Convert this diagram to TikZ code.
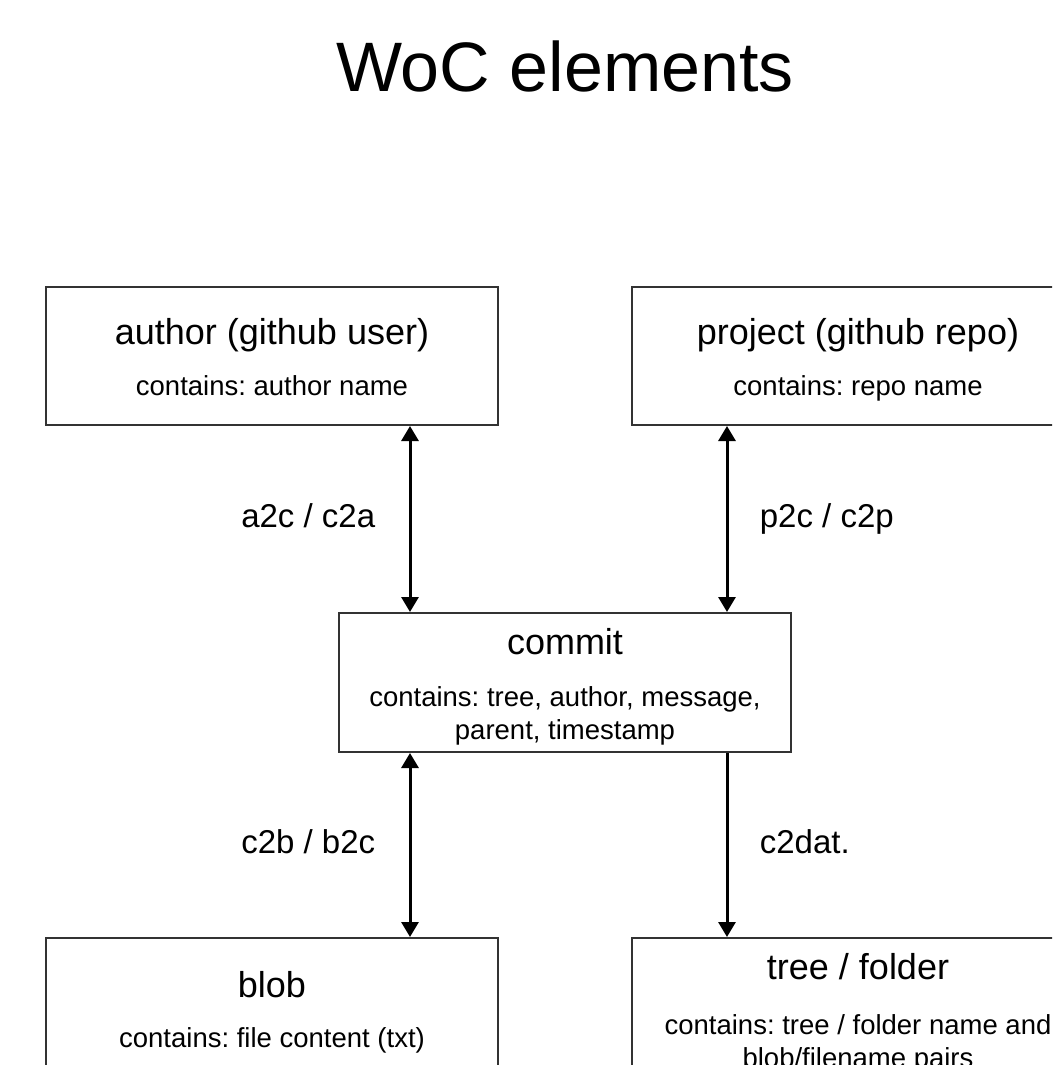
\documentclass[tikz,border=0pt]{standalone}
\usepackage{fontspec}
\setmainfont{Liberation Sans}
\frenchspacing
\usetikzlibrary{positioning,arrows.meta}

\begin{document}
\begin{tikzpicture}[x=1pt,y=-1pt,>={Triangle[length=15pt,width=17pt]}]
	\tikzstyle{elem} = [draw=black!80, line width=2pt, minimum width=452pt, minimum height=138pt, inner sep=0pt];
	\tikzstyle{head} = [anchor=base, inner sep=0pt, font=\fontsize{36}{43}\selectfont];
	\tikzstyle{body} = [anchor=base, inner sep=0pt, align=center, font=\fontsize{27.5}{33}\selectfont];
	\tikzstyle{link} = [line width=3pt];
	\tikzstyle{lbl} = [text height=24pt, text depth=7pt, font=\fontsize{33}{40}\selectfont];
	\useasboundingbox (0,0) rectangle (1052,1065);
	\clip (0,0) rectangle (1052,1065);
	\node[font=\fontsize{70}{84}\selectfont] (title) at (565,66) {WoC elements};
	\node[elem] (author) at (272,356) {};
	\node[elem] (project) at (858,356) {};
	\node[elem, minimum height=139pt] (commit) at (565,682.5) {};
	\node[elem] (blob) at (272,1007) {};
	\node[elem] (tree) at (858,1007) {};
	\node[head] (authorhead) at ([yshift=-58pt]author.north) {author (github user)};
	\node[body] (authorbody) at ([yshift=-109pt]author.north) {contains: author name};
	\node[head] (projecthead) at ([yshift=-58pt]project.north) {project (github repo)};
	\node[body] (projectbody) at ([yshift=-109pt]project.north) {contains: repo name};
	\node[head] (commithead) at ([yshift=-42pt]commit.north) {commit};
	\node[body] (commitbody) at ([yshift=-127pt]commit.north) {contains: tree, author, message,\\parent, timestamp};
	\node[head] (blobhead) at ([yshift=-60pt]blob.north) {blob};
	\node[body] (blobbody) at ([yshift=-110pt]blob.north) {contains: file content (txt)};
	\node[head] (treehead) at ([yshift=-42pt]tree.north) {tree / folder};
	\node[body] (treebody) at ([yshift=-130pt]tree.north) {contains: tree / folder name and\\blob/filename pairs};
	\draw[link, <->] ([xshift=138pt]author.south) -- node[lbl, left=30pt] {a2c / c2a} ([xshift=-155pt]commit.north);
	\draw[link, <->] ([xshift=-131pt]project.south) -- node[lbl, right=28pt] {p2c / c2p} ([xshift=162pt]commit.north);
	\draw[link, <->] ([xshift=-155pt]commit.south) -- node[lbl, left=30pt] {c2b / b2c} ([xshift=138pt]blob.north);
	\draw[link, ->] ([xshift=162pt]commit.south) -- node[lbl, right=28pt] {c2dat.} ([xshift=-131pt]tree.north);
\end{tikzpicture}
\end{document}
